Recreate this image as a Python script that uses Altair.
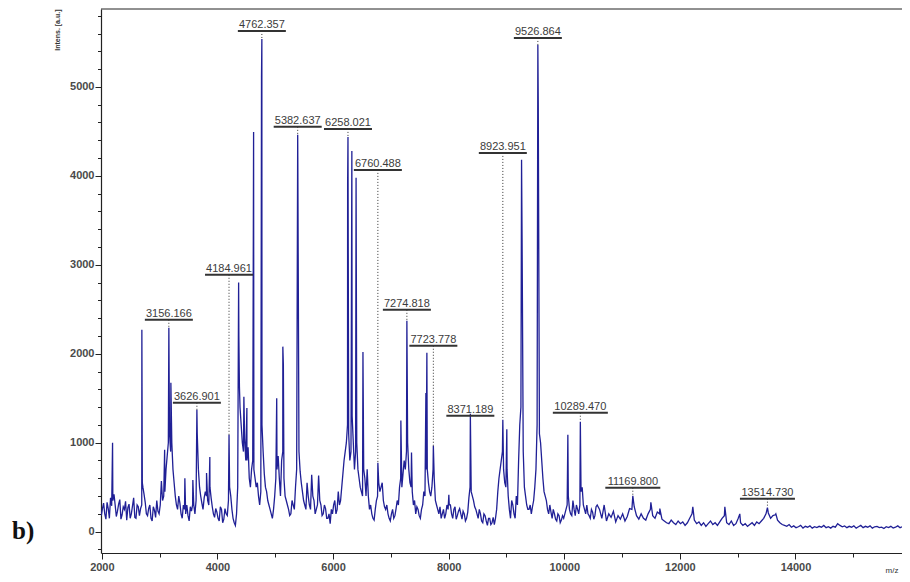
import altair as alt
import pandas as pd

# ---------------- data ----------------
# baseline / noise of the spectrum (m/z, intensity)
base_mz = [
    1990, 2010, 2030, 2050, 2070, 2090, 2110, 2130, 2150, 2170,
    2190, 2210, 2230, 2250, 2270, 2290, 2310, 2330, 2350, 2370,
    2390, 2410, 2430, 2450, 2470, 2490, 2510, 2530, 2550, 2570,
    2590, 2610, 2630, 2650, 2670, 2690, 2710, 2730, 2750, 2770,
    2790, 2810, 2830, 2850, 2870, 2890, 2910, 2930, 2950, 2970,
    2990, 3010, 3030, 3050, 3070, 3090, 3110, 3130, 3150, 3170,
    3190, 3210, 3230, 3250, 3270, 3290, 3310, 3330, 3350, 3370,
    3390, 3410, 3430, 3450, 3470, 3490, 3510, 3530, 3550, 3570,
    3590, 3610, 3630, 3650, 3670, 3690, 3710, 3730, 3750, 3770,
    3790, 3810, 3830, 3850, 3870, 3890, 3910, 3930, 3950, 3970,
    3990, 4010, 4030, 4050, 4070, 4090, 4110, 4130, 4150, 4170,
    4190, 4210, 4230, 4250, 4270, 4290, 4310, 4330, 4350, 4370,
    4390, 4410, 4430, 4450, 4470, 4490, 4510, 4530, 4550, 4570,
    4590, 4610, 4630, 4650, 4670, 4690, 4710, 4730, 4750, 4770,
    4790, 4810, 4830, 4850, 4870, 4890, 4910, 4930, 4950, 4970,
    4990, 5010, 5030, 5050, 5070, 5090, 5110, 5130, 5150, 5170,
    5190, 5210, 5230, 5250, 5270, 5290, 5310, 5330, 5350, 5370,
    5390, 5410, 5430, 5450, 5470, 5490, 5510, 5530, 5550, 5570,
    5590, 5610, 5630, 5650, 5670, 5690, 5710, 5730, 5750, 5770,
    5790, 5810, 5830, 5850, 5870, 5890, 5910, 5930, 5950, 5970,
    5990, 6010, 6030, 6050, 6070, 6090, 6110, 6130, 6150, 6170,
    6190, 6210, 6230, 6250, 6270, 6290, 6310, 6330, 6350, 6370,
    6390, 6410, 6430, 6450, 6470, 6490, 6510, 6530, 6550, 6570,
    6590, 6610, 6630, 6650, 6670, 6690, 6710, 6730, 6750, 6770,
    6790, 6810, 6830, 6850, 6870, 6890, 6910, 6930, 6950, 6970,
    6990, 7010, 7030, 7050, 7070, 7090, 7110, 7130, 7150, 7170,
    7190, 7210, 7230, 7250, 7270, 7290, 7310, 7330, 7350, 7370,
    7390, 7410, 7430, 7450, 7470, 7490, 7510, 7530, 7550, 7570,
    7590, 7610, 7630, 7650, 7670, 7690, 7710, 7730, 7750, 7770,
    7790, 7810, 7830, 7850, 7870, 7890, 7910, 7930, 7950, 7970,
    7990, 8010, 8030, 8050, 8070, 8090, 8110, 8130, 8150, 8170,
    8190, 8210, 8230, 8250, 8270, 8290, 8310, 8330, 8350, 8370,
    8390, 8410, 8430, 8450, 8470, 8490, 8510, 8530, 8550, 8570,
    8590, 8610, 8630, 8650, 8670, 8690, 8710, 8730, 8750, 8770,
    8790, 8810, 8830, 8850, 8870, 8890, 8910, 8930, 8950, 8970,
    8990, 9010, 9030, 9050, 9070, 9090, 9110, 9130, 9150, 9170,
    9190, 9210, 9230, 9250, 9270, 9290, 9310, 9330, 9350, 9370,
    9390, 9410, 9430, 9450, 9470, 9490, 9510, 9530, 9550, 9570,
    9590, 9610, 9630, 9650, 9670, 9690, 9710, 9730, 9750, 9770,
    9790, 9810, 9830, 9850, 9870, 9890, 9910, 9930, 9950, 9970,
    9990, 10010, 10030, 10050, 10070, 10090, 10110, 10130, 10150, 10170,
    10190, 10210, 10230, 10250, 10270, 10290, 10310, 10330, 10350, 10370,
    10390, 10410, 10430, 10450, 10470, 10490, 10510, 10530, 10550, 10570,
    10610, 10650, 10690, 10730, 10770, 10810, 10850, 10890, 10930, 10970,
    11010, 11050, 11090, 11130, 11170, 11210, 11250, 11290, 11330, 11370,
    11410, 11450, 11490, 11530, 11570, 11610, 11650, 11690, 11730, 11770,
    11810, 11850, 11890, 11930, 11970, 12010, 12050, 12090, 12130, 12170,
    12210, 12250, 12290, 12330, 12370, 12410, 12450, 12490, 12530, 12570,
    12610, 12650, 12690, 12730, 12770, 12810, 12850, 12890, 12930, 12970,
    13010, 13050, 13090, 13130, 13170, 13210, 13250, 13290, 13330, 13370,
    13410, 13450, 13490, 13530, 13570, 13610, 13650, 13690, 13730, 13770,
    13810, 13850, 13890, 13930, 13970, 14010, 14050, 14090, 14130, 14170,
    14210, 14250, 14290, 14330, 14370, 14410, 14450, 14490, 14530, 14570,
    14610, 14650, 14690, 14730, 14770, 14810, 14850, 14890, 14930, 14970,
    15010, 15050, 15090, 15130, 15170, 15210, 15250, 15290, 15330, 15370,
    15410, 15450, 15490, 15530, 15570, 15610, 15650, 15690, 15730, 15770,
    15810, 15850, 15890, 15930, 15970, 16010, 16050, 16090, 16130, 16170,
]
base_int = [
    180, 260, 320, 200, 140, 330, 260, 150, 380, 290,
    350, 420, 300, 170, 230, 310, 360, 140, 190, 280,
    250, 340, 130, 270, 310, 150, 200, 290, 380, 160,
    150, 300, 280, 180, 260, 300, 500, 420, 330, 200,
    180, 260, 300, 150, 120, 280, 240, 160, 350, 230,
    200, 300, 570, 350, 400, 450, 700, 850, 1000, 1100,
    900, 1000, 700, 550, 400, 300, 250, 400, 320, 200,
    150, 300, 250, 200, 300, 180, 120, 280, 230, 300,
    300, 200, 350, 1100, 700, 500, 400, 320, 250, 380,
    450, 400, 350, 300, 500, 380, 280, 200, 160, 260,
    220, 150, 120, 280, 250, 100, 140, 260, 200, 180,
    350, 500, 400, 250, 150, 100, 70, 200, 500, 2200,
    1400, 1200, 1000, 900, 1050, 800, 800, 950, 600, 500,
    700, 800, 700, 600, 500, 550, 400, 300, 450, 1200,
    900, 650, 500, 450, 350, 300, 250, 200, 150, 250,
    400, 600, 700, 850, 600, 400, 800, 900, 600, 400,
    350, 300, 250, 180, 200, 350, 300, 250, 500, 700,
    4200, 900, 680, 550, 450, 350, 300, 250, 550, 400,
    300, 250, 640, 400, 350, 200, 250, 300, 630, 350,
    300, 180, 200, 300, 260, 150, 150, 200, 90, 250,
    200, 300, 350, 200, 250, 450, 300, 350, 500, 650,
    800, 900, 1000, 1200, 1100, 800, 900, 1300, 1000, 700,
    900, 1000, 700, 600, 500, 450, 400, 700, 600, 400,
    700, 400, 250, 300, 200, 150, 130, 250, 350, 400,
    550, 450, 500, 550, 350, 280, 250, 300, 200, 150,
    120, 200, 250, 150, 180, 260, 350, 300, 500, 600,
    500, 650, 800, 700, 900, 1000, 700, 550, 500, 450,
    300, 350, 200, 280, 250, 180, 150, 250, 300, 450,
    400, 700, 700, 550, 450, 400, 500, 700, 600, 350,
    300, 250, 200, 280, 150, 200, 250, 150, 200, 300,
    250, 300, 300, 200, 150, 250, 280, 140, 180, 230,
    260, 200, 140, 230, 200, 120, 150, 220, 380, 500,
    450, 400, 350, 280, 250, 200, 150, 250, 200, 120,
    100, 200, 180, 120, 70, 150, 150, 80, 100, 160,
    80, 150, 250, 450, 600, 700, 800, 900, 700, 550,
    500, 700, 400, 250, 150, 350, 300, 200, 150, 400,
    300, 800, 1200, 1400, 3300, 900, 500, 400, 300, 250,
    250, 300, 200, 280, 350, 500, 700, 1200, 4800, 1100,
    1000, 800, 600, 450, 400, 350, 250, 200, 300, 220,
    150, 250, 200, 140, 120, 200, 180, 100, 130, 180,
    150, 200, 250, 300, 400, 250, 200, 180, 350, 250,
    180, 300, 250, 200, 300, 450, 500, 300, 250, 200,
    300, 200, 180, 150, 250, 220, 140, 180, 280, 300,
    250, 150, 300, 120, 200, 160, 230, 110, 180, 140,
    200, 120, 170, 260, 250, 280, 180, 140, 200, 150,
    130, 200, 250, 180, 150, 220, 200, 140, 120, 100,
    90, 130, 100, 80, 120, 90, 110, 70, 100, 150,
    200, 130, 90, 110, 70, 100, 60, 90, 120, 80,
    100, 70, 110, 150, 180, 100, 80, 120, 70, 90,
    150, 100, 70, 90, 60, 80, 100, 70, 110, 90,
    120, 150, 200, 210, 150, 180, 190, 130, 100, 80,
    70, 60, 80, 50, 65, 45, 55, 70, 40, 60,
    50, 65, 40, 55, 45, 60, 50, 70, 45, 55,
    40, 60, 50, 90, 70, 55, 65, 45, 60, 50,
    65, 40, 55, 70, 45, 60, 50, 65, 40, 55,
    60, 45, 50, 35, 55, 45, 60, 40, 50, 65,
    45, 55, 40, 60, 50, 45, 55, 50, 45, 50,
]
# sharp peaks (m/z, intensity)
peak_mz = [2185, 2692, 2700, 3086, 3159, 3194, 3436, 3574, 3644, 3811,
           3868, 4200, 4366, 4380, 4457, 4509, 4625, 4762, 4768, 5025,
           5131, 5140, 5388, 6252, 6258, 6325, 6398, 6517, 6775, 7173,
           7277, 7357, 7606, 7623, 7735, 8003, 8375, 8937, 9006, 9261,
           9543, 10062, 10278, 11186, 11200, 11498, 11653, 12224, 12778, 13037,
           13515, 13660]
peak_int = [1000, 2270, 550, 920, 2292, 1675, 600, 580, 1371, 660,
            840, 1090, 2800, 1630, 1517, 1390, 4494, 5110, 5539, 1500,
            2080, 1880, 4461, 3920, 4438, 4280, 3980, 2020, 775, 1250,
            2371, 890, 1560, 2010, 966, 415, 1326, 1258, 1150, 4180,
            5472, 1090, 1236, 404, 330, 330, 260, 280, 280, 200,
            270, 200]

# peak annotations
label_text = ["3156.166", "3626.901", "4184.961", "4762.357", "5382.637",
              "6258.021", "6760.488", "7274.818", "7723.778", "8371.189",
              "8923.951", "9526.864", "10289.470", "11169.800", "13514.730"]
label_mz = [3159, 3644, 4200, 4768, 5388, 6258, 6775, 7277, 7735, 8375,
            8937, 9543, 10278, 11186, 13515]
label_bar = [2382, 1449, 2888, 5629, 4551, 4528, 4067, 2494, 2090, 1303,
             4258, 5551, 1337, 494, 371]
label_top = [2292, 1371, 1090, 5539, 4461, 4438, 775, 2371, 966, 1303,
             1258, 5472, 1236, 404, 270]

x_ticks = [2000, 3000, 4000, 5000, 6000, 7000, 8000, 9000, 10000,
           11000, 12000, 13000, 14000, 15000]
y_ticks = [-200, 0, 200, 400, 600, 800, 1000, 1200, 1400, 1600, 1800, 2000,
           2200, 2400, 2600, 2800, 3000, 3200, 3400, 3600, 3800, 4000, 4200,
           4400, 4600, 4800, 5000, 5200, 5400, 5600, 5800]
X_DOMAIN = [1985, 15843]
Y_DOMAIN = [-240, 5876]

assert len(base_mz) == len(base_int)
assert len(peak_mz) == len(peak_int)

spec = pd.DataFrame({"mz": base_mz + peak_mz, "intensity": base_int + peak_int})
spec = spec.sort_values("mz", kind="mergesort").reset_index(drop=True)

labels = pd.DataFrame({"text": label_text, "mz": label_mz,
                       "bar": label_bar, "top": label_top})

# ---------------- chart ----------------
FONT = "Liberation Sans"
x_scale = alt.Scale(domain=X_DOMAIN, nice=False, zero=False)
y_scale = alt.Scale(domain=Y_DOMAIN, nice=False, zero=False)

x_axis = alt.Axis(
    values=x_ticks, format="d", grid=False,
    labelExpr="datum.value % 2000 === 0 ? datum.label : ''",
    labelOverlap=False, labelFlush=False,
    labelFont=FONT, labelFontSize=11, labelFontWeight="bold", labelColor="#4a4a4a",
    labelPadding=2,
    tickSize={"condition": {"test": "datum.value % 2000 === 0", "value": 6}, "value": 4},
    tickColor="#222", domainColor="#222", domainWidth=1.2, tickWidth=1,
    title="m/z", titleFont=FONT, titleFontSize=8, titleFontWeight="normal",
    titleColor="#333", titleX=784, titleY=19, titleAlign="left",
    titleBaseline="alphabetic",
)
y_axis = alt.Axis(
    values=y_ticks, format="d", grid=False,
    labelExpr="datum.value % 1000 === 0 ? datum.label : ''",
    labelOverlap=False, labelFlush=False,
    labelFont=FONT, labelFontSize=11, labelFontWeight="bold", labelColor="#4a4a4a",
    labelPadding=1,
    tickSize={"condition": {"test": "datum.value % 1000 === 0", "value": 6}, "value": 3.5},
    tickColor="#222", domainColor="#222", domainWidth=1.2, tickWidth=1,
    title="Intens. [a.u.]", titleFont=FONT, titleFontSize=7, titleFontWeight="bold",
    titleColor="#333", titleAngle=270, titleAlign="right", titleBaseline="middle",
    titleX=-44, titleY=0,
)


def X(field):
    return alt.X(field, type="quantitative", scale=x_scale, axis=x_axis)


def Y(field):
    return alt.Y(field, type="quantitative", scale=y_scale, axis=y_axis)


line = alt.Chart(spec).mark_line(color="#202096", strokeWidth=1.3, clip=True).encode(
    x=X("mz"), y=Y("intensity"),
)

top_border = alt.Chart(spec).transform_aggregate(
    lo="min(mz)"
).transform_calculate(v=str(Y_DOMAIN[1])).mark_rule(
    color="#222", strokeWidth=1
).encode(y=Y("v"))

lab_base = alt.Chart(labels)
dots = lab_base.mark_rule(color="#333", strokeWidth=1, strokeDash=[1, 2]).encode(
    x=X("mz"), y=Y("bar"), y2="top:Q",
)
bars8 = lab_base.transform_filter("length(datum.text) <= 8").mark_rule(
    color="#333", strokeWidth=2, xOffset=-24, x2Offset=24
).encode(x=X("mz"), x2="mz:Q", y=Y("bar"))
bars9 = lab_base.transform_filter("length(datum.text) > 8").mark_rule(
    color="#333", strokeWidth=2, xOffset=-27.5, x2Offset=27.5
).encode(x=X("mz"), x2="mz:Q", y=Y("bar"))
texts = lab_base.mark_text(
    font=FONT, fontSize=11, color="#3c3c3c", baseline="alphabetic", align="center", dy=-3
).encode(x=X("mz"), y=Y("bar"), text="text:N")

panel = alt.Chart(pd.DataFrame({"t": ["b)"]})).mark_text(
    font="Liberation Serif", fontSize=25, fontWeight="bold", color="#111",
    align="left", baseline="alphabetic"
).encode(x=alt.value(-89), y=alt.value(530), text="t:N")

chart = alt.layer(line, top_border, dots, bars8, bars9, texts, panel).properties(
    width=801, height=544,
    autosize=alt.AutoSizeParams(type="none"),
    padding={"left": 93, "top": 1, "right": 0, "bottom": 21},
    background="white",
).configure_view(stroke=None)

chart.save("out.html", embed_options={"renderer": "svg", "actions": False})
